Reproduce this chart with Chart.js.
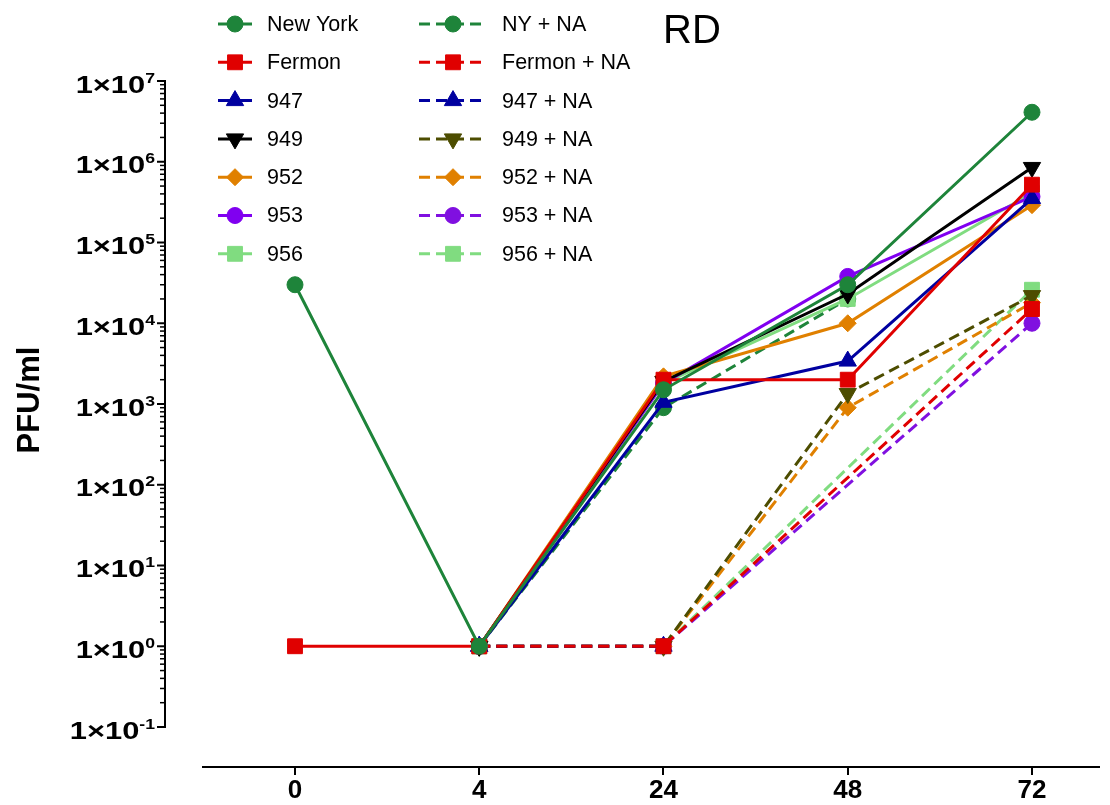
<!DOCTYPE html>
<html><head><meta charset="utf-8">
<script src="https://cdn.jsdelivr.net/npm/chart.js@4.4.1/dist/chart.umd.min.js"></script>
<style>html,body{margin:0;padding:0;background:#fff}canvas{display:block}</style>
</head><body>
<canvas id="c" width="1110" height="805"></canvas>
<script>
// ---- data ----
const timeLabels = ['0', '4', '24', '48', '72'];
const seriesNames = ['New York', 'Fermon', '947', '949', '952', '953', '956',
  'NY + NA', 'Fermon + NA', '947 + NA', '949 + NA', '952 + NA', '953 + NA', '956 + NA'];
const newYork  = [3.0e4, 1, 1.5e3, 3.0e4, 4.1e6];
const fermon   = [1, 1, 2.0e3, 2.0e3, 5.2e5];
const s947     = [null, 1, 1.05e3, 3.4e3, 3.5e5];
const s949     = [null, 1, 1.9e3, 2.3e4, 8.5e5];
const s952     = [null, 1, 2.2e3, 1.0e4, 2.9e5];
const s953     = [null, 1, 1.8e3, 3.8e4, 3.7e5];
const s956     = [null, 1, 1.8e3, 2.0e4, 4.1e5];
const nyNA     = [null, 1, 9.0e2, 2.0e4, null];
const fermonNA = [null, 1, 1, null, 1.5e4];
const s947NA   = [null, 1, 1, null, null];
const s949NA   = [null, 1, 1, 1.35e3, 2.2e4];
const s952NA   = [null, 1, 1, 9.0e2, 1.8e4];
const s953NA   = [null, 1, 1, null, 1.0e4];
const s956NA   = [null, 1, 1, null, 2.6e4];
const yTickExponents = [7, 6, 5, 4, 3, 2, 1, 0, -1];
const yAxisTitle = 'PFU/ml';
const chartTitle = 'RD';

const seriesValues = [newYork, fermon, s947, s949, s952, s953, s956,
  nyNA, fermonNA, s947NA, s949NA, s952NA, s953NA, s956NA];

// ---- styles ----
const colors = ['#1E843A', '#E00000', '#0000A0', '#000000', '#E08000', '#8000F0', '#80DC80',
  '#1E843A', '#E00000', '#0000A0', '#4D4D00', '#E08000', '#8010E0', '#80DC80'];
const shapes = ['circle', 'rect', 'triangle', 'triangleDown', 'rectRot', 'circle', 'rect'];
const shapeRadius = {circle: 8, rect: 10.5, triangle: 10, triangleDown: 10, rectRot: 8.5};

const datasets = seriesValues.map((vals, i) => {
  const shp = shapes[i % 7];
  const dashed = i >= 7;
  return {
    label: seriesNames[i],
    data: vals.map((v, j) => ({x: j, y: v})),
    borderColor: colors[i],
    backgroundColor: colors[i],
    borderWidth: 3,
    borderDash: dashed ? [11, 6] : [],
    pointStyle: shp === 'triangleDown' ? 'triangle' : shp,
    pointRotation: shp === 'triangleDown' ? 180 : 0,
    pointRadius: shapeRadius[shp],
    pointHoverRadius: shapeRadius[shp],
    pointBorderWidth: 1,
    pointBorderColor: colors[i],
    pointBackgroundColor: colors[i],
    spanGaps: true,
    fill: false,
    tension: 0
  };
});

const LABEL_FONT = '"Liberation Sans", Arial, Helvetica, sans-serif';

const decorPlugin = {
  id: 'decor',
  afterDraw(chart) {
    const ctx = chart.ctx;
    const ys = chart.scales.y;
    ctx.save();
    // title
    ctx.fillStyle = '#000';
    ctx.font = '40px ' + LABEL_FONT;
    ctx.textAlign = 'center';
    ctx.textBaseline = 'alphabetic';
    ctx.fillText(chartTitle, 692, 43);

    // y axis line and ticks
    const axX = 165;
    const pTop = ys.getPixelForValue(1e7);
    const pBot = ys.getPixelForValue(1e-1);
    ctx.strokeStyle = '#000';
    ctx.lineWidth = 2;
    ctx.beginPath();
    ctx.moveTo(axX, pTop - 1);
    ctx.lineTo(axX, pBot + 1);
    ctx.stroke();
    ctx.lineWidth = 1.5;
    for (let e = -1; e < 7; e++) {
      for (let m = 2; m <= 9; m++) {
        const py = ys.getPixelForValue(m * Math.pow(10, e));
        ctx.beginPath();
        ctx.moveTo(axX - 5, py);
        ctx.lineTo(axX, py);
        ctx.stroke();
      }
    }
    ctx.lineWidth = 2;
    yTickExponents.forEach(e => {
      const py = ys.getPixelForValue(Math.pow(10, e));
      ctx.beginPath();
      ctx.moveTo(axX - 8, py);
      ctx.lineTo(axX, py);
      ctx.stroke();
      // label "1×10" + superscript exponent
      const sx = 1.26;
      ctx.save();
      ctx.scale(sx, 1);
      ctx.textAlign = 'right';
      ctx.textBaseline = 'alphabetic';
      ctx.font = 'bold 14px ' + LABEL_FONT;
      const expStr = String(e);
      const expW = ctx.measureText(expStr).width;
      const right = 155 / sx;
      ctx.fillText(expStr, right, py + 1.7);
      ctx.font = 'bold 24.5px ' + LABEL_FONT;
      ctx.fillText('1\u00d710', right - expW, py + 11.7);
      ctx.restore();
    });

    // y axis title
    ctx.save();
    ctx.translate(30, 400);
    ctx.rotate(-Math.PI / 2);
    ctx.font = 'bold 31px ' + LABEL_FONT;
    ctx.textAlign = 'center';
    ctx.textBaseline = 'middle';
    ctx.fillStyle = '#000';
    ctx.fillText(yAxisTitle, 0, 0);
    ctx.restore();

    // legend
    chart.data.datasets.forEach((ds, i) => {
      const col = i < 7 ? 0 : 1;
      const row = i % 7;
      const y = 24 + row * 38.3;
      const x0 = col ? 419 : 218, x1 = col ? 486 : 252;
      const mx = col ? 453 : 235, tx = col ? 502 : 267;
      ctx.save();
      ctx.strokeStyle = ds.borderColor;
      ctx.lineWidth = ds.borderWidth;
      ctx.setLineDash(ds.borderDash || []);
      ctx.beginPath();
      ctx.moveTo(x0, y);
      ctx.lineTo(x1, y);
      ctx.stroke();
      ctx.setLineDash([]);
      ctx.fillStyle = ds.backgroundColor;
      ctx.strokeStyle = ds.borderColor;
      ctx.lineWidth = 1;
      Chart.helpers.drawPoint(ctx, {pointStyle: ds.pointStyle, rotation: ds.pointRotation, radius: ds.pointRadius, borderWidth: 1}, mx, y);
      ctx.fillStyle = '#000';
      ctx.font = '21.5px ' + LABEL_FONT;
      ctx.textAlign = 'left';
      ctx.textBaseline = 'middle';
      ctx.fillText(ds.label, tx, y + 1);
      ctx.restore();
    });
    ctx.restore();
  }
};

new Chart(document.getElementById('c'), {
  type: 'line',
  data: {datasets},
  plugins: [decorPlugin],
  options: {
    responsive: false,
    animation: false,
    devicePixelRatio: 1,
    layout: {padding: {left: 203, top: 81, right: 0, bottom: 0}},
    plugins: {legend: {display: false}, tooltip: {enabled: false}, title: {display: false}},
    scales: {
      x: {
        type: 'linear',
        min: -0.4993,
        max: 4.361,
        afterBuildTicks: s => { s.ticks = timeLabels.map((_, i) => ({value: i})); },
        afterFit: s => { s.height = 38; },
        ticks: {
          callback: (v, idx) => timeLabels[idx],
          font: {family: LABEL_FONT, size: 26, weight: 'bold'},
          color: '#000', padding: 0, maxRotation: 0, autoSkip: false
        },
        grid: {display: true, drawOnChartArea: false, drawTicks: true, tickLength: 8, color: '#000', lineWidth: 2},
        border: {display: true, color: '#000', width: 2}
      },
      y: {
        type: 'logarithmic',
        min: Math.pow(10, -1 - 40 / 80.75),
        max: 1e7,
        display: false
      }
    }
  }
});
</script>
</body></html>
